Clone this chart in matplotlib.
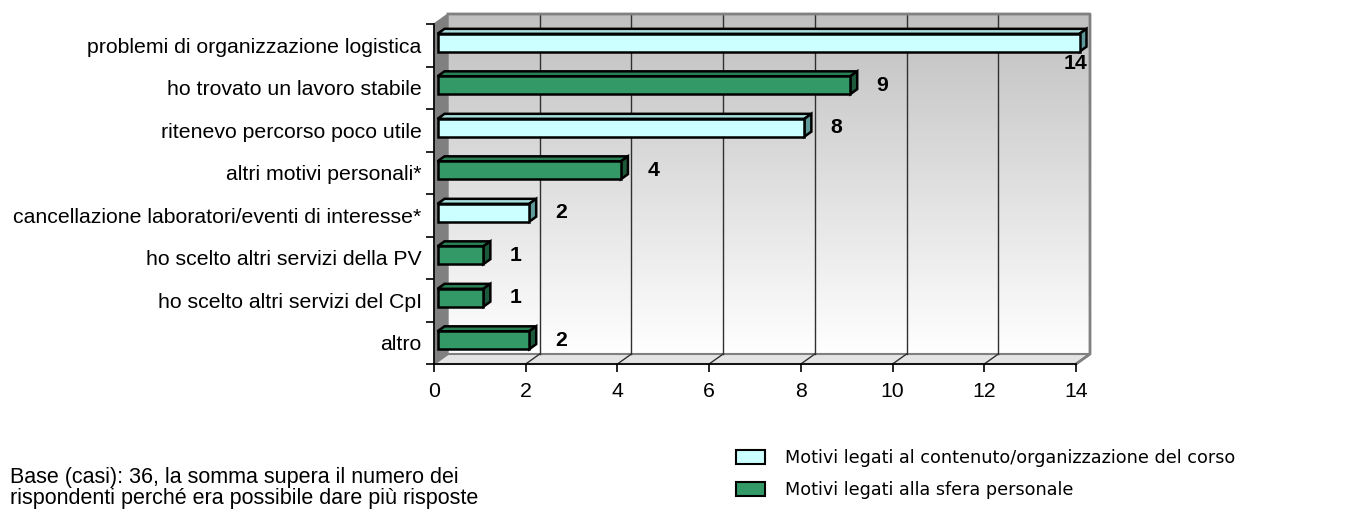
import numpy as np
import matplotlib
matplotlib.use("Agg")
import matplotlib.pyplot as plt
from matplotlib.patches import Polygon, Patch
from matplotlib.transforms import IdentityTransform
from matplotlib.colors import LinearSegmentedColormap

# data
categories = ["problemi di organizzazione logistica", "ho trovato un lavoro stabile",
              "ritenevo percorso poco utile", "altri motivi personali*",
              "cancellazione laboratori/eventi di interesse*", "ho scelto altri servizi della PV",
              "ho scelto altri servizi del CpI", "altro"]
values = [14, 9, 8, 4, 2, 1, 1, 2]
groups = [0, 1, 0, 1, 0, 1, 1, 1]   # 0 = contenuto/organizzazione, 1 = sfera personale
group_labels = ["Motivi legati al contenuto/organizzazione del corso",
                "Motivi legati alla sfera personale"]
x_ticks = [0, 2, 4, 6, 8, 10, 12, 14]
note = "Base (casi): 36, la somma supera il numero dei\nrispondenti perché era possibile dare più risposte"

face = ["#ccffff", "#339966"]
top = ["#a8dede", "#2b8156"]
side = ["#5f9999", "#1d5a3b"]

W, H = 1346, 512
DX, DY = 14, 10          # depth of the 3d box in pixels
d_front, d_back = 0.25, 0.75
bh = 0.42
font = "Liberation Sans"
fs = 15.3

fig = plt.figure(figsize=(W / 100, H / 100), dpi=100)
ax = fig.add_axes([434 / W, (H - 364) / H, 642 / W, 340 / H])
ax.set_xlim(0, 14)
ax.set_ylim(len(categories) - 0.5, -0.5)
ax.patch.set_visible(False)
for s in ["top", "right"]:
    ax.spines[s].set_visible(False)
ax.spines["left"].set_linewidth(1.2)
ax.spines["bottom"].set_linewidth(1.2)


def px(x, y, d=0.0):
    p = ax.transData.transform((x, y))
    return (p[0] + d * DX, p[1] + d * DY)


def apx(x, y, d=0.0):
    p = ax.transAxes.transform((x, y))
    return (p[0] + d * DX, p[1] + d * DY)


ident = IdentityTransform()

# back wall with gradient
(x0, y0), (x1, y1) = apx(0, 0, 1), apx(1, 1, 1)
wall_cmap = LinearSegmentedColormap.from_list("wall", ["#c0c0c0", "#ffffff"])
grad = np.linspace(0, 1, 256).reshape(-1, 1)
im = ax.imshow(grad, cmap=wall_cmap, aspect="auto", extent=(x0, x1, y0, y1),
               transform=ident, zorder=0, clip_on=False)
ax.set_xlim(0, 14)
ax.set_ylim(len(categories) - 0.5, -0.5)

# left wall and floor
ax.add_patch(Polygon([apx(0, 0), apx(0, 1), apx(0, 1, 1), apx(0, 0, 1)], closed=True,
                     transform=ident, fc="#808080", ec="#808080", lw=1, zorder=1, clip_on=False))
ax.add_patch(Polygon([apx(0, 0), apx(1, 0), apx(1, 0, 1), apx(0, 0, 1)], closed=True,
                     transform=ident, fc="#e4e4e4", ec="#808080", lw=1.5, zorder=1, clip_on=False))

# grid lines on back wall and floor
for t in x_ticks[1:-1]:
    a, b = px(t, len(categories) - 0.5, 1), px(t, -0.5, 1)
    ax.plot([a[0], b[0]], [a[1], b[1]], color="#303030", lw=1, transform=ident, zorder=1, clip_on=False)
    c = px(t, len(categories) - 0.5, 0)
    ax.plot([c[0], a[0]], [c[1], a[1]], color="#303030", lw=1, transform=ident, zorder=1, clip_on=False)
# wall border
brd = [apx(0, 1, 1), apx(1, 1, 1), apx(1, 0, 1), apx(1, 0, 0)]
ax.plot([p[0] for p in brd], [p[1] for p in brd], color="#808080", lw=2,
        transform=ident, zorder=1, clip_on=False)

# bars
for i, (v, g) in enumerate(zip(values, groups)):
    yt, yb = i - bh / 2, i + bh / 2
    front = [px(0, yt, d_front), px(v, yt, d_front), px(v, yb, d_front), px(0, yb, d_front)]
    topf = [px(0, yt, d_front), px(v, yt, d_front), px(v, yt, d_back), px(0, yt, d_back)]
    right = [px(v, yt, d_front), px(v, yt, d_back), px(v, yb, d_back), px(v, yb, d_front)]
    for poly, col in [(topf, top[g]), (right, side[g]), (front, face[g])]:
        ax.add_patch(Polygon(poly, closed=True, transform=ident, fc=col, ec="black",
                             lw=1.8, joinstyle="miter", zorder=3, clip_on=False))
    if v >= ax.get_xlim()[1]:
        ax.annotate(str(v), xy=(v, yb), xytext=(d_back * DX + 1, d_front * DY - 2),
                    textcoords="offset pixels", ha="right", va="top",
                    fontsize=fs, fontweight="bold", family=font, zorder=4)
    else:
        ax.annotate(str(v), xy=(v, i), xytext=(30, d_front * DY),
                    textcoords="offset pixels", ha="left", va="center",
                    fontsize=fs, fontweight="bold", family=font, zorder=4)

# axes ticks
ax.set_xticks(x_ticks)
ax.set_xticklabels([str(t) for t in x_ticks], fontsize=fs, family=font)
ax.tick_params(axis="x", length=6, width=1.2, pad=7)
ax.set_yticks(range(len(categories)))
ax.set_yticklabels(categories, fontsize=fs, family=font)
ax.tick_params(axis="y", which="major", length=0, pad=9)
ax.set_yticks(np.arange(-0.5, len(categories)), minor=True)
ax.tick_params(axis="y", which="minor", length=6, width=1.2)

# legend and note
handles = [Patch(fc=face[k], ec="black", lw=1.5, label=group_labels[k]) for k in range(2)]
fig.legend(handles=handles, loc="upper left", bbox_to_anchor=(736 / W, 1 - 449 / H),
           frameon=False, prop={"family": "DejaVu Sans", "size": 12.7},
           handlelength=1.65, handleheight=0.8, handletextpad=1.15, labelspacing=0.8,
           borderpad=0, borderaxespad=0)
fig.text(10 / W, 1 - 467 / H, note, fontsize=15.5, family=font, va="top", linespacing=1.0)

fig.savefig("out.png", dpi=100)
